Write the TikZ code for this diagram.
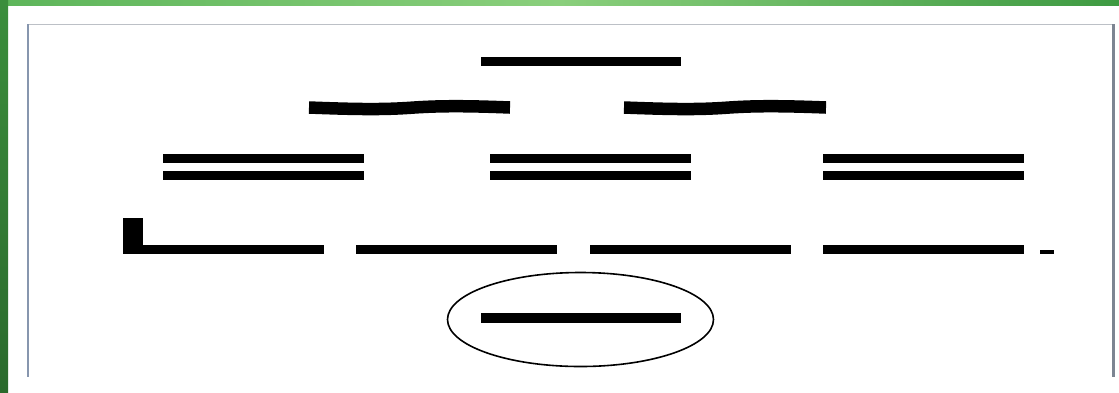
\documentclass[tikz,border=0pt]{standalone}
\usetikzlibrary{shapes.geometric}
\definecolor{gtop}{HTML}{5DB55A}
\definecolor{gtopl}{HTML}{8ACF7C}
\definecolor{gtopd}{HTML}{3E9A42}
\definecolor{gleft}{HTML}{3B8E3C}
\definecolor{gleftd}{HTML}{2A6A2C}
\definecolor{frameL}{HTML}{8796AE}
\definecolor{frameT}{HTML}{BCC0C6}
\definecolor{frameR}{HTML}{7C8592}
\tikzset{
  bar/.style={fill=black},
  wave/.style={draw=black, line width=12.5pt, line cap=butt},
  ring/.style={draw=black, line width=1.6pt},
}
\begin{document}
\begin{tikzpicture}[x=1pt,y=-1pt]
\useasboundingbox (0,0) rectangle (1119,392);
\fill[white] (0,0) rectangle (1119,392);
% green surround
\shade[left color=gtop, right color=gtopd, middle color=gtopl] (0,0) rectangle (1119,5);
\shade[top color=gleft, bottom color=gleftd] (0,0) rectangle (8,392);
% frame
\draw[frameT, line width=1pt] (27,24.5) -- (1113,24.5);
\draw[frameL, line width=2pt] (28,24) -- (28,377);
\draw[frameR, line width=3pt] (1113.5,24) -- (1113.5,377);
% row 1
\fill[bar] (481,57) rectangle (681,66);
% row 2 wavy
\draw[wave] (309,107.5) .. controls (360,109.5) and (385,109.5) .. (410,107.8)
            .. controls (435,106) and (460,105.5) .. (510,107.5);
\draw[wave] (624,107.5) .. controls (675,109.5) and (700,109.5) .. (725,107.8)
            .. controls (750,106) and (775,105.5) .. (826,107.5);
% row 3 double bars
\foreach \x in {163,490,823}{
  \fill[bar] (\x,154) rectangle ++(201,9);
  \fill[bar] (\x,171) rectangle ++(201,9);
}
% row 4
\fill[bar] (123,218) rectangle (143,254);
\fill[bar] (123,245) rectangle (324,254);
\fill[bar] (356,245) rectangle (557,254);
\fill[bar] (590,245) rectangle (791,254);
\fill[bar] (823,245) rectangle (1024,254);
\fill[bar] (1040,249.5) rectangle (1054,254);
% row 5
\node[ring, ellipse, minimum width=266pt, minimum height=94pt, inner sep=0pt] (oval) at (580.5,319.5) {};
\fill[bar] (481,313) rectangle (681,323);
\end{tikzpicture}
\end{document}
